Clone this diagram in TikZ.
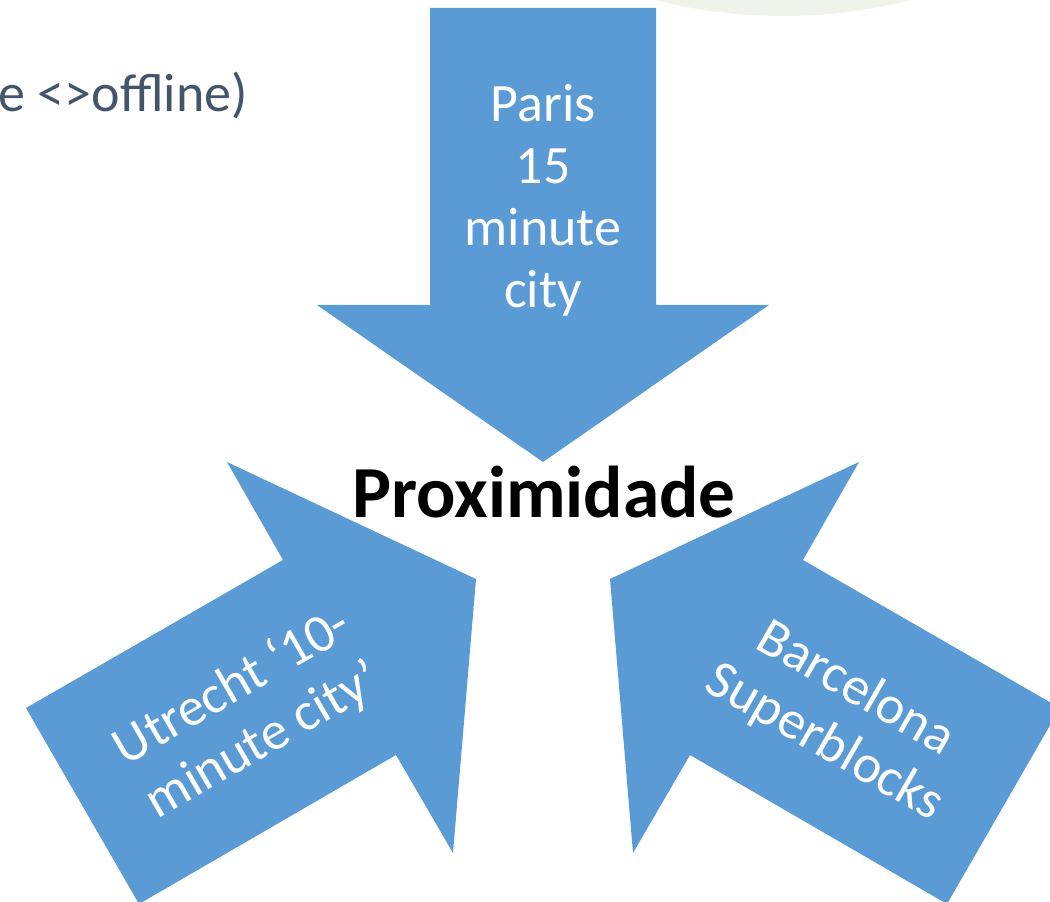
\documentclass[tikz,border=0pt]{standalone}
\usepackage{fontspec}
\setmainfont{Carlito}
\definecolor{arrowblue}{RGB}{91,155,213}
\definecolor{palegreen}{RGB}{239,244,234}
\definecolor{slatetext}{RGB}{68,84,106}

\begin{document}
\begin{tikzpicture}[x=0.75pt,y=0.75pt,yscale=-1,xscale=1,
    arrowshape/.style={fill=arrowblue, draw=none},
    arrowlabel/.style={text=white, align=center, inner sep=0.75pt, font=\fontsize{40.5}{46.5}\selectfont}]
    \useasboundingbox (0,0) rectangle (1050,902);
    \clip (0,0) rectangle (1050,902);
    %Shape: Circle (background, cut by the top edge)
    \fill [palegreen] (783,-504) circle (520);
    %Shape: Down Arrow
    \fill [arrowshape] (430,8) -- (656,8) -- (656,305) -- (769,305) -- (543,462) -- (317,305) -- (430,305) -- cycle ;
    %Shape: Arrow up-right
    \fill [arrowshape] (139,904) -- (26,708) -- (283,560) -- (227,462) -- (476,579) -- (453,853) -- (396,755) -- cycle ;
    %Shape: Arrow up-left
    \fill [arrowshape] (947,904) -- (1060,708) -- (803,560) -- (859,462) -- (610,579) -- (633,853) -- (690,755) -- cycle ;

    % Text Node
    \node (offline) [anchor=base east, inner sep=0pt, text=slatetext, font=\fontsize{40.5}{45.75}\selectfont] at (248,112) {e <>offline)};
    % Text Node
    \node (paris) [arrowlabel] at (543,200) {Paris\\15\\minute\\city};
    % Text Node
    \node (utrecht) [arrowlabel, rotate=30] at (248,714) {Utrecht ‘10-\\minute city’};
    % Text Node
    \node (barcelona) [arrowlabel, rotate=-30] at (840,716) {Barcelona\\Superblocks};
    % Text Node
    \node (proxim) [anchor=base, inner sep=0pt, font=\fontsize{55}{62}\selectfont\bfseries] at (544,517) {Proximidade};

\end{tikzpicture}
\end{document}
